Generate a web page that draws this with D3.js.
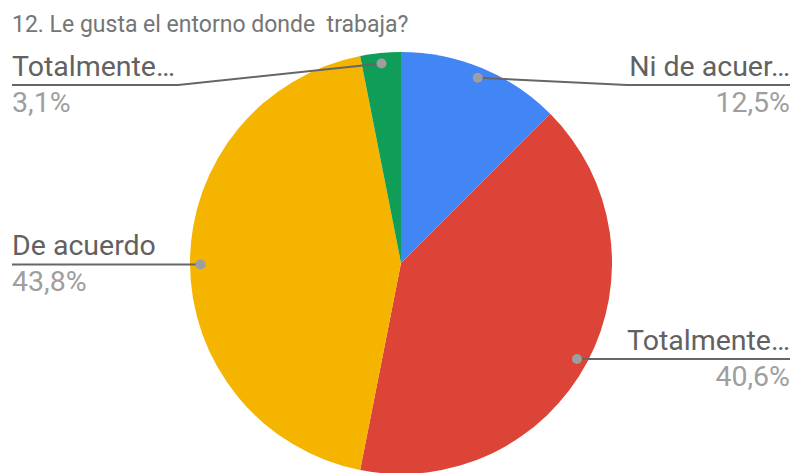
<!DOCTYPE html>
<html>
<head>
<meta charset="utf-8">
<script src="https://cdn.jsdelivr.net/npm/d3@7"></script>
<style>
  html, body { margin: 0; padding: 0; background: #fff; }
  svg { display: block; font-family: Roboto, "Noto Sans", sans-serif; }
  text { white-space: pre; }
</style>
</head>
<body>
<svg id="chart" width="796" height="473"></svg>
<script>
// Survey answers, in drawing order (clockwise from 12 o'clock)
const categories = ["Ni de acuerdo ni en desacuerdo", "Totalmente de acuerdo", "De acuerdo", "Totalmente en desacuerdo"];
const shortLabels = ["Ni de acuer…", "Totalmente…", "De acuerdo", "Totalmente…"];
const percents = [12.5, 40.6, 43.8, 3.1];
const colors = ["#4285f4", "#db4437", "#f4b400", "#0f9d58"];
const title = "12. Le gusta el entorno donde  trabaja?";

const W = 796, H = 473;
const cx = 401, cy = 263, R = 211;
const dotR = R * 0.95;

const svg = d3.select("#chart");

svg.append("text")
  .attr("x", 12).attr("y", 32)
  .attr("fill", "#757575")
  .attr("font-size", 23)
  .text(title);

const pie = d3.pie().sort(null).value(d => d)(percents);
const arc = d3.arc().innerRadius(0).outerRadius(R);

const g = svg.append("g").attr("transform", `translate(${cx},${cy})`);
g.selectAll("path.slice")
  .data(pie)
  .enter().append("path")
  .attr("class", "slice")
  .attr("d", arc)
  .attr("fill", (d, i) => colors[i]);

// Label blocks: side and the y of the underline
const labelLayout = [
  { side: "right", lineY: 85, elbowX: 627 },
  { side: "right", lineY: 359, elbowX: null },
  { side: "left", lineY: 264.5, elbowX: null },
  { side: "left", lineY: 85, elbowX: 178 }
];
const leftX = 12, rightX = 790;

pie.forEach((d, i) => {
  const L = labelLayout[i];
  let px, py;
  const frac = (d.endAngle - d.startAngle) / (2 * Math.PI);
  if (frac > 0.3) {
    // large slice: slide the dot along the arc so the leader runs level
    const dy = L.lineY - cy;
    const dx = Math.sqrt(dotR * dotR - dy * dy);
    px = cx + (L.side === "right" ? dx : -dx);
    py = L.lineY;
  } else {
    const a = (d.startAngle + d.endAngle) / 2;
    px = cx + dotR * Math.sin(a);
    py = cy - dotR * Math.cos(a);
  }
  const endX = L.side === "right" ? rightX : leftX;
  const pts = [[px, py]];
  if (L.elbowX !== null) pts.push([L.elbowX, L.lineY]);
  pts.push([endX, L.lineY]);

  svg.append("path")
    .attr("d", d3.line()(pts))
    .attr("fill", "none")
    .attr("stroke", "#666")
    .attr("stroke-width", 2);
  svg.append("circle")
    .attr("cx", px).attr("cy", py).attr("r", 5)
    .attr("fill", "#9e9e9e");

  const anchor = L.side === "right" ? "end" : "start";
  svg.append("text")
    .attr("x", endX).attr("y", L.lineY - 9.5)
    .attr("text-anchor", anchor)
    .attr("font-size", 28.5)
    .attr("fill", "#616161")
    .text(shortLabels[i]);
  svg.append("text")
    .attr("x", endX).attr("y", L.lineY + 26.5)
    .attr("text-anchor", anchor)
    .attr("font-size", 28.5)
    .attr("fill", "#9e9e9e")
    .text(d3.format(".1f")(percents[i]).replace(".", ",") + "%");
});
</script>
</body>
</html>
